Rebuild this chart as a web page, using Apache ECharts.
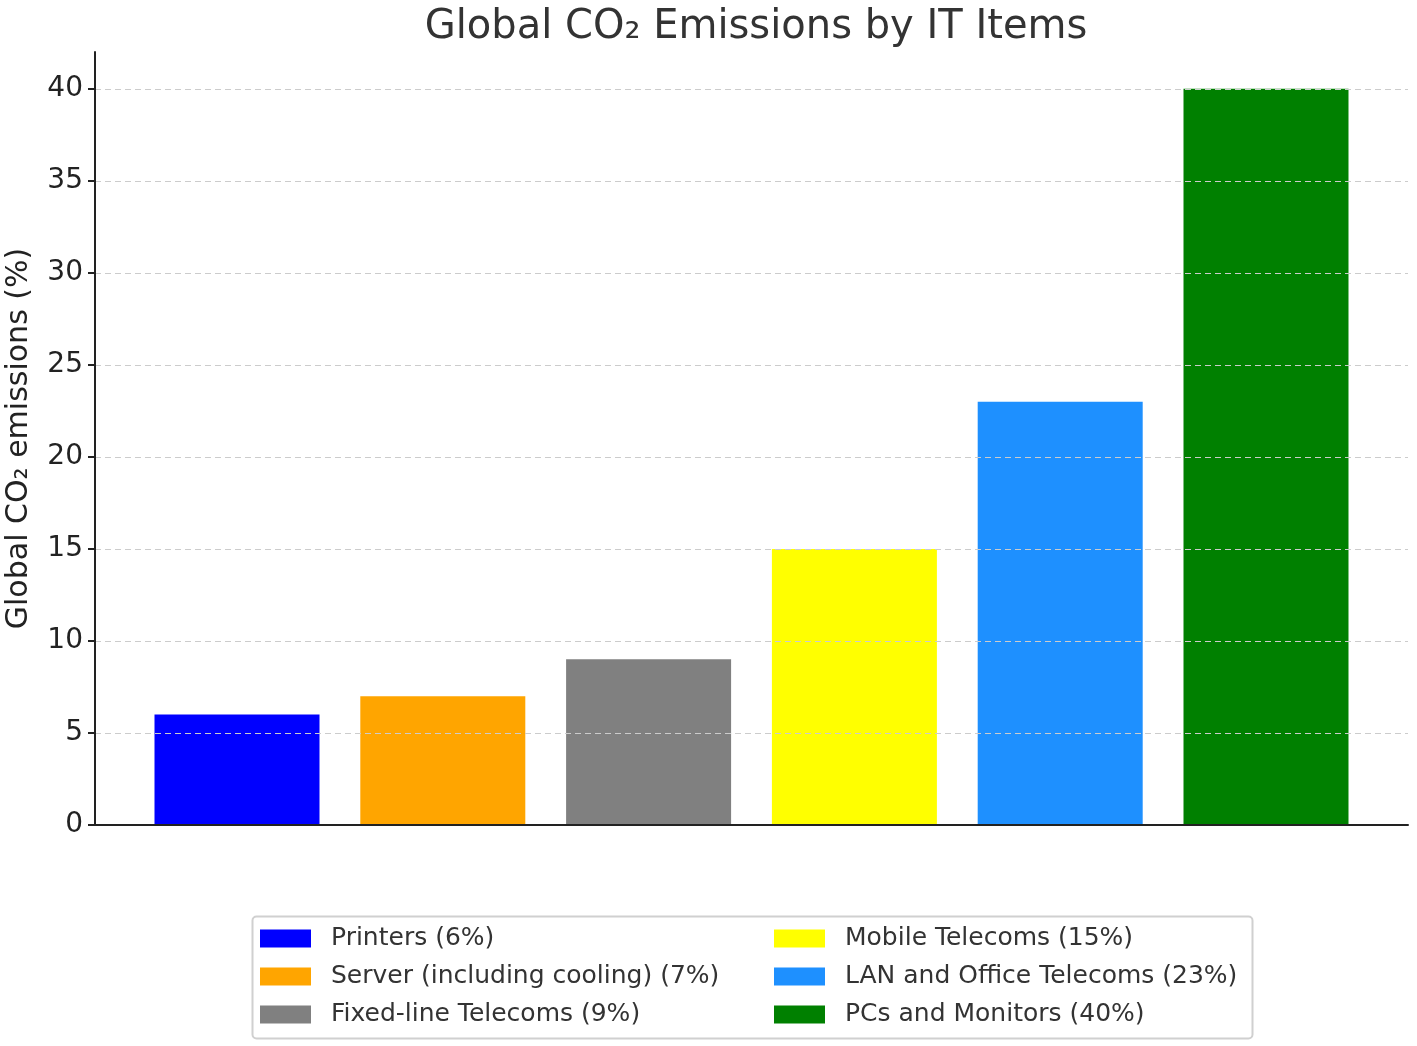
<!DOCTYPE html>
<html>
<head>
<meta charset="utf-8">
<script src="https://cdn.jsdelivr.net/npm/echarts@6/dist/echarts.min.js"></script>
<style>html,body{margin:0;padding:0;background:#fff}#c{width:1417px;height:1046px}</style>
</head>
<body>
<div id="c"></div>
<script>
const categories = ['Printers (6%)', 'Server (including cooling) (7%)', 'Fixed-line Telecoms (9%)', 'Mobile Telecoms (15%)', 'LAN and Office Telecoms (23%)', 'PCs and Monitors (40%)'];
const values = [6, 7, 9, 15, 23, 40];
const colors = ['#0000ff', '#ffa500', '#808080', '#ffff00', '#1e90ff', '#008000'];
const yTicks = [0, 5, 10, 15, 20, 25, 30, 35, 40];

const FONT = 'DejaVu Sans';
const chart = echarts.init(document.getElementById('c'), null, {renderer: 'canvas'});

const series = categories.map((name, i) => ({
  name: name,
  type: 'bar',
  data: [[i, values[i]]],
  barWidth: 165,
  barGap: '-100%',
  itemStyle: {color: colors[i]},
  z: 2
}));

// grid lines drawn above the bars, as in the reference
series.push({
  name: '_grid',
  type: 'line',
  data: [],
  z: 6,
  silent: true,
  markLine: {
    silent: true,
    symbol: 'none',
    animation: false,
    label: {show: false},
    lineStyle: {color: '#cccccc', type: [6, 4], width: 1.2},
    data: yTicks.filter(v => v > 0).map(v => ({yAxis: v}))
  }
});

const legendText = {fontFamily: FONT, fontSize: 25, color: '#333', padding: [0, 0, 0, 15]};

chart.setOption({
  animation: false,
  backgroundColor: '#fff',
  title: {
    text: 'Global CO₂ Emissions by IT Items',
    left: 751, textAlign: 'center', top: 3,
    textStyle: {fontFamily: FONT, fontSize: 40, fontWeight: 'normal', color: '#333'}
  },
  grid: {left: 95, right: 9, top: 52, bottom: 221, containLabel: false, outerBoundsMode: 'none'},
  xAxis: {
    type: 'value', min: -0.69, max: 5.69,
    z: 10,
    axisLine: {show: true, onZero: false, lineStyle: {color: '#222', width: 2}},
    axisTick: {show: false}, axisLabel: {show: false}, splitLine: {show: false}
  },
  yAxis: {
    type: 'value', min: 0, max: 42, interval: 5,
    z: 10,
    name: 'Global CO₂ emissions (%)',
    nameLocation: 'middle', nameGap: 61, nameRotate: 90,
    nameTextStyle: {fontFamily: FONT, fontSize: 30, color: '#222'},
    axisLine: {show: true, onZero: false, lineStyle: {color: '#222', width: 2}},
    axisTick: {show: true, length: 7, customValues: yTicks, lineStyle: {color: '#222', width: 2}},
    axisLabel: {fontFamily: FONT, fontSize: 28, color: '#222', margin: 12, customValues: yTicks},
    splitLine: {show: false}
  },
  legend: [
    {
      orient: 'vertical', left: 260, top: 926, height: 140, padding: 0,
      data: categories.slice(0, 3),
      itemWidth: 51, itemHeight: 18, itemGap: 13,
      icon: 'rect', textStyle: legendText, selectedMode: false
    },
    {
      orient: 'vertical', left: 774, top: 926, height: 140, padding: 0,
      data: categories.slice(3),
      itemWidth: 51, itemHeight: 18, itemGap: 13,
      icon: 'rect', textStyle: legendText, selectedMode: false
    }
  ],
  graphic: [{
    type: 'rect', left: 250, top: 914,
    shape: {width: 1000, height: 122, r: 4},
    style: {fill: 'none', stroke: '#d0d0d0', lineWidth: 2},
    z: -1
  }],
  series: series
});
</script>
</body>
</html>
